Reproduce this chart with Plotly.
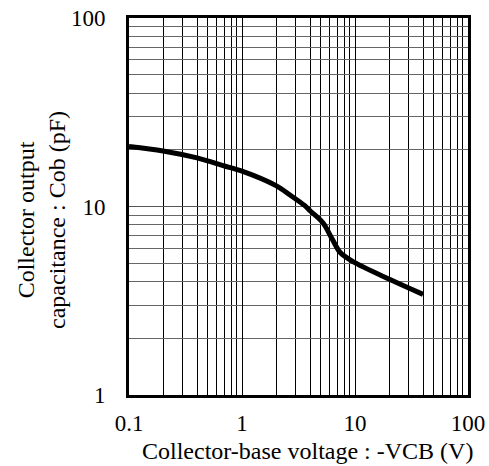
import plotly.graph_objects as go

# Collector output capacitance vs collector-base voltage
vcb = [0.1, 0.2, 0.4, 0.7, 1.0, 2.0, 2.66, 3.6, 4.0, 5.2, 6.3, 7.4, 9.6, 20.4, 40.0]
cob = [20.8, 19.7, 18.1, 16.4, 15.4, 12.9, 11.5, 10.1, 9.5, 8.2, 6.7, 5.7, 5.1, 4.1, 3.42]

x_ticks = [0.1, 1, 10, 100]
x_tick_text = ["0.1", "1", "10", "100"]
y_ticks = [1, 10, 100]
y_tick_text = ["1", "10", "100"]

x_minor = [m * d for d in (0.1, 1, 10) for m in range(2, 10)]
y_minor = [m * d for d in (1, 10) for m in range(2, 10)]

FONT = "Liberation Serif"

fig = go.Figure()
fig.add_trace(go.Scatter(
    x=vcb, y=cob, mode="lines",
    line=dict(color="black", width=5, shape="spline", smoothing=0.9),
    showlegend=False, hoverinfo="skip",
))

fig.update_xaxes(
    type="log", range=[-1, 2], automargin=False,
    tickvals=x_ticks, ticktext=x_tick_text,
    showgrid=True, gridcolor="black", gridwidth=1,
    minor=dict(tickvals=x_minor, showgrid=True, gridcolor="black", gridwidth=1, ticks=""),
    showline=True, linecolor="black", linewidth=3, mirror=True,
    ticks="", ticklabelstandoff=5,
    tickfont=dict(family=FONT, size=23, color="black"),
    zeroline=False,
)
fig.update_yaxes(
    type="log", range=[0, 2], automargin=False,
    tickvals=y_ticks, ticktext=y_tick_text,
    showgrid=True, gridcolor="#555555", gridwidth=1.3,
    minor=dict(tickvals=y_minor, showgrid=True, gridcolor="#666666", gridwidth=1.3, ticks=""),
    showline=True, linecolor="black", linewidth=3, mirror=True,
    ticks="", ticklabelstandoff=16,
    tickfont=dict(family=FONT, size=23, color="black"),
    zeroline=False,
)

fig.add_annotation(
    text="Collector-base voltage : -VCB (V)",
    xref="paper", yref="paper", x=0.527, y=-0.148, xanchor="center", yanchor="middle",
    showarrow=False, font=dict(family=FONT, size=24, color="black"),
)
fig.add_annotation(
    text="Collector output<br>capacitance : Cob (pF)",
    xref="paper", yref="paper", x=-0.26, y=0.464, xanchor="center", yanchor="middle",
    textangle=-90, showarrow=False, font=dict(family=FONT, size=24, color="black"),
)

fig.update_layout(
    width=489, height=466,
    margin=dict(l=129, r=21, t=18, b=71),
    paper_bgcolor="white", plot_bgcolor="white",
)

fig.write_html("out.html")
